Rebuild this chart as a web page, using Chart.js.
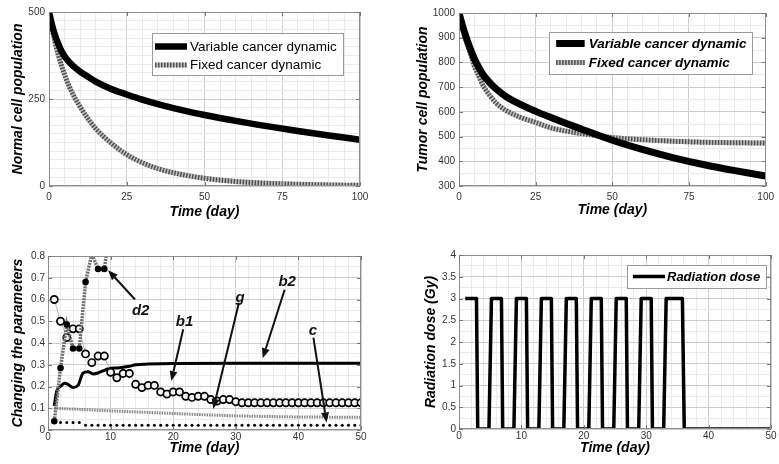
<!DOCTYPE html>
<html><head><meta charset="utf-8">
<script src="https://cdn.jsdelivr.net/npm/chart.js@4.4.1/dist/chart.umd.min.js"></script>
<style>
html,body{margin:0;padding:0;background:#fff;}
#wrap{position:relative;width:779px;height:464px;overflow:hidden;background:#fff;}
.p{position:absolute;}
</style></head><body>
<div id="wrap">
<div class="p" style="left:0;top:0;"><canvas id="c1" width="390" height="232"></canvas></div>
<div class="p" style="left:390px;top:0;"><canvas id="c2" width="389" height="232"></canvas></div>
<div class="p" style="left:0;top:232px;"><canvas id="c3" width="390" height="232"></canvas></div>
<div class="p" style="left:390px;top:232px;"><canvas id="c4" width="389" height="232"></canvas></div>
</div>
<script>
// ---------------- DATA ----------------
// Panel 1: Normal cell population
const days1 = [0,1,2,3,4,5,6,8,10,12,15,20,25,30,35,40,50,60,70,80,90,100];
const normalVariable = [500,462,432,408,388,373,361,343,329,317,300,279,263,248,235,224,204,187,172,158,145,133];
const normalFixed = [500,452,412,377,347,320,297,258,228,200,165,123,90,67,50,38,22,13,8,5,3,2];

// Panel 2: Tumor cell population
const days2 = [0,1,2,3,4,5,6,8,10,12,15,20,25,30,35,40,50,60,70,80,90,100];
const tumorVariable = [1000,955,915,878,845,815,790,748,718,694,665,630,602,577,553,530,485,447,414,386,362,340];
const tumorFixed = [1000,948,900,862,825,785,757,703,667,637,608,578,557,535,522,512,496,487,481,477,475,474];

// Panel 3: Changing the parameters
const paramDays = [1,2,3,4,5,6,7,8,9,10,11,12,13,14,15,16,17,18,19,20,21,22,23,24,25,26,27,28,29,30,31,32,33,34,35,36,37,38,39,40,41,42,43,44,45,46,47,48,49,50];
const b1Values = [0.60,0.50,0.425,0.465,0.465,0.35,0.31,0.34,0.34,0.265,0.24,0.26,0.26,0.21,0.195,0.205,0.205,0.175,0.165,0.175,0.175,0.155,0.15,0.155,0.155,0.14,0.133,0.14,0.14,0.13,0.125,0.125,0.125,0.125,0.125,0.125,0.125,0.125,0.125,0.125,0.125,0.125,0.125,0.125,0.125,0.125,0.125,0.125,0.125,0.125];
const cValues = [0.035,0.035,0.035,0.035,0.035,0.022,0.022,0.022,0.022,0.022,0.022,0.022,0.022,0.022,0.022,0.022,0.022,0.022,0.022,0.022,0.022,0.022,0.022,0.022,0.022,0.022,0.022,0.022,0.022,0.022,0.022,0.022,0.022,0.022,0.022,0.022,0.022,0.022,0.022,0.022,0.022,0.022,0.022,0.022,0.022,0.022,0.022,0.022,0.022,0.022];
const d2Days = [1,2,3,4,5,6,7,8,9,10];
const d2Values = [0.04,0.285,0.485,0.375,0.375,0.68,0.81,0.74,0.74,0.95];
const b2Days = [1,1.4,2,2.6,3.2,4,4.8,5.6,6.4,7.2,8,8.8,9.8,11,12,13,14,16,18,20,30,40,50];
const b2Values = [0.11,0.18,0.2,0.215,0.21,0.195,0.205,0.262,0.268,0.258,0.262,0.272,0.283,0.285,0.288,0.293,0.3,0.303,0.305,0.306,0.307,0.307,0.307];
const gDays = [1,5,10,15,20,25,30,35,40,45,50];
const gValues = [0.1,0.095,0.088,0.082,0.076,0.07,0.065,0.062,0.06,0.059,0.058];
const paramLabels = ['d2','b1','g','b2','c'];

// Panel 4: Radiation dose
const doseDays = [1,2.8,3,4.8,5.2,6.8,7,8.8,9.2,10.8,11,12.8,13.2,14.8,15,16.8,17.2,18.8,19,20.8,21.2,22.8,23,24.8,25.2,26.8,27,28.8,29.2,30.8,31,32.8,33.2,35.8,36.1,50];
const doseValues = [3,3,0,0,3,3,0,0,3,3,0,0,3,3,0,0,3,3,0,0,3,3,0,0,3,3,0,0,3,3,0,0,3,3,0,0];

// ---------------- HELPERS ----------------
Chart.defaults.font.family = '"Liberation Sans", Arial, Helvetica, sans-serif';
Chart.defaults.animation = false;
const pts = (xs, ys) => xs.map((x, i) => ({x: x, y: ys[i]}));
const isMajor = (v, m) => { const r = v / m; return Math.abs(r - Math.round(r)) < 1e-6; };
const fmt = v => String(Math.round(v * 1000) / 1000);
const TITLE_FONT = {size: 14, weight: 'bold', style: 'italic', lineHeight: 1.2};

function axis(o) {
  return {
    type: 'linear', min: o.min, max: o.max,
    afterFit: s => { if (s.isHorizontal()) s.height = o.fit; else s.width = o.fit; },
    ticks: {stepSize: o.minor, autoSkip: false, maxRotation: 0, minRotation: 0, padding: o.tickPad,
      color: '#333', font: {size: 10}, callback: v => isMajor(v, o.major) ? fmt(v) : ''},
    grid: {drawTicks: false, lineWidth: 1,
      color: c => (c.tick && isMajor(c.tick.value, o.major)) ? '#cdcdcd' : '#ebebeb'},
    border: {display: false},
    title: {display: true, text: o.title, color: '#000', font: TITLE_FONT, padding: o.titlePad}
  };
}

const framePlugin = {
  id: 'frame',
  afterDatasetsDraw(chart, args, opts) {
    const {ctx, chartArea: a, scales: {x, y}} = chart;
    ctx.save();
    ctx.strokeStyle = '#8f8f8f'; ctx.lineWidth = 1;
    ctx.strokeRect(Math.round(a.left) + 0.5, Math.round(a.top) + 0.5, Math.round(a.width) - 1, Math.round(a.height) - 1);
    ctx.strokeStyle = '#777';
    ctx.beginPath();
    x.ticks.forEach(t => { if (isMajor(t.value, opts.xMajor)) { const p = Math.round(x.getPixelForValue(t.value)) + 0.5; ctx.moveTo(p, a.bottom); ctx.lineTo(p, a.bottom - 4); ctx.moveTo(p, a.top); ctx.lineTo(p, a.top + 4); } });
    y.ticks.forEach(t => { if (isMajor(t.value, opts.yMajor)) { const p = Math.round(y.getPixelForValue(t.value)) + 0.5; ctx.moveTo(a.left, p); ctx.lineTo(a.left + 4, p); ctx.moveTo(a.right, p); ctx.lineTo(a.right - 4, p); } });
    ctx.stroke();
    ctx.restore();
  }
};

const boxLegendPlugin = {
  id: 'boxLegend',
  afterDraw(chart, args, o) {
    if (!o || !o.width) return;
    const {ctx, chartArea: a} = chart;
    const left = a.right - o.right - o.width, top = a.top + o.top;
    ctx.save();
    ctx.fillStyle = '#fff'; ctx.strokeStyle = '#9a9a9a'; ctx.lineWidth = 1;
    ctx.fillRect(left, top, o.width, o.height);
    ctx.strokeRect(Math.round(left) + 0.5, Math.round(top) + 0.5, o.width, o.height);
    const items = chart.data.datasets.filter(d => d.label);
    items.forEach((d, i) => {
      const yy = top + o.rows[i];
      ctx.lineCap = 'butt';
      if (d.underColor) {
        ctx.setLineDash([]); ctx.strokeStyle = d.underColor; ctx.lineWidth = d.borderWidth;
        ctx.beginPath(); ctx.moveTo(left + o.sample[0], yy); ctx.lineTo(left + o.sample[1], yy); ctx.stroke();
      }
      ctx.setLineDash(d.borderDash || []); ctx.strokeStyle = d.borderColor; ctx.lineWidth = d.borderWidth;
      ctx.beginPath(); ctx.moveTo(left + o.sample[0], yy); ctx.lineTo(left + o.sample[1], yy); ctx.stroke();
      ctx.setLineDash([]);
      ctx.fillStyle = '#000'; ctx.font = o.font; ctx.textBaseline = 'middle'; ctx.textAlign = 'left';
      ctx.fillText(d.label, left + o.textX, yy + 0.5);
    });
    ctx.restore();
  }
};

const arrowPlugin = {
  id: 'arrows',
  afterDraw(chart, args, o) {
    if (!o || !o.items) return;
    const {ctx, scales: {x, y}} = chart;
    ctx.save();
    o.items.forEach((it, i) => {
      const tx = x.getPixelForValue(it.tx), ty = y.getPixelForValue(it.ty);
      const x0 = x.getPixelForValue(it.from[0]), y0 = y.getPixelForValue(it.from[1]);
      const x1 = x.getPixelForValue(it.to[0]), y1 = y.getPixelForValue(it.to[1]);
      const ang = Math.atan2(y1 - y0, x1 - x0), L = 10, Wd = 4;
      const bx = x1 - L * Math.cos(ang), by = y1 - L * Math.sin(ang);
      ctx.strokeStyle = '#111'; ctx.fillStyle = '#111'; ctx.lineWidth = 2;
      ctx.beginPath(); ctx.moveTo(x0, y0); ctx.lineTo(bx, by); ctx.stroke();
      ctx.beginPath(); ctx.moveTo(x1, y1);
      ctx.lineTo(bx + Wd * Math.sin(ang), by - Wd * Math.cos(ang));
      ctx.lineTo(bx - Wd * Math.sin(ang), by + Wd * Math.cos(ang));
      ctx.closePath(); ctx.fill();
      ctx.font = 'italic bold 15px "Liberation Sans", Arial, sans-serif';
      ctx.textAlign = 'center'; ctx.textBaseline = 'middle';
      ctx.fillText(paramLabels[i], tx, ty);
    });
    ctx.restore();
  }
};

Chart.register(framePlugin, boxLegendPlugin, arrowPlugin);

function makeChart(id, cfg) {
  return new Chart(document.getElementById(id), {
    type: 'line',
    data: {datasets: cfg.datasets},
    options: {
      responsive: false, animation: false,
      layout: {padding: {top: cfg.padTop, right: cfg.padRight, left: 0, bottom: 0}, autoPadding: false},
      elements: {point: {radius: 0}, line: {tension: 0}},
      plugins: {legend: {display: false}, tooltip: {enabled: false},
        frame: {xMajor: cfg.x.major, yMajor: cfg.y.major},
        boxLegend: cfg.legend || {}, arrows: cfg.arrows || {}},
      scales: {x: axis(cfg.x), y: axis(cfg.y)}
    }
  });
}

// ---------------- PANEL 1 ----------------
makeChart('c1', {
  padTop: 12, padRight: 30,
  x: {min: 0, max: 100, minor: 5, major: 25, fit: 46, tickPad: 5, title: 'Time (day)', titlePad: {top: 0, bottom: 11}},
  y: {min: 0, max: 500, minor: 25, major: 250, fit: 49, tickPad: 4, title: 'Normal cell population', titlePad: {top: 10, bottom: 0}},
  legend: {right: 17, top: 21, width: 191, height: 42, rows: [13.5, 32], sample: [3, 35], textX: 38,
    font: '13.5px "Liberation Sans", Arial, sans-serif'},
  datasets: [
    {label: 'Variable cancer dynamic', data: pts(days1, normalVariable), borderColor: '#000', borderWidth: 6.5, cubicInterpolationMode: 'monotone'},
    {label: 'Fixed cancer dynamic', data: pts(days1, normalFixed), borderColor: '#505050', underColor: '#c2c2c2', borderDash: [1.5, 1.5], borderWidth: 5, cubicInterpolationMode: 'monotone'},
    {data: pts(days1, normalFixed), borderColor: '#c2c2c2', borderWidth: 5, cubicInterpolationMode: 'monotone'}
  ]
});

// ---------------- PANEL 2 ----------------
makeChart('c2', {
  padTop: 13, padRight: 8,
  x: {min: 0, max: 100, minor: 5, major: 25, fit: 46, tickPad: 5, title: 'Time (day)', titlePad: {top: 0, bottom: 13}},
  y: {min: 300, max: 1000, minor: 50, major: 100, fit: 69, tickPad: 4, title: 'Tumor cell population', titlePad: {top: 25, bottom: 0}},
  legend: {right: 14, top: 19, width: 203, height: 42, rows: [11.5, 30.5], sample: [7.5, 36], textX: 40,
    font: 'italic bold 13.5px "Liberation Sans", Arial, sans-serif'},
  datasets: [
    {label: 'Variable cancer dynamic', data: pts(days2, tumorVariable), borderColor: '#000', borderWidth: 7, cubicInterpolationMode: 'monotone'},
    {label: 'Fixed cancer dynamic', data: pts(days2, tumorFixed), borderColor: '#505050', underColor: '#c2c2c2', borderDash: [1.5, 1.5], borderWidth: 5, cubicInterpolationMode: 'monotone'},
    {data: pts(days2, tumorFixed), borderColor: '#c2c2c2', borderWidth: 5, cubicInterpolationMode: 'monotone'}
  ]
});

// ---------------- PANEL 3 ----------------
makeChart('c3', {
  padTop: 24, padRight: 29,
  x: {min: 0, max: 50, minor: 2, major: 10, fit: 34, tickPad: 1, title: 'Time (day)', titlePad: {top: 0, bottom: 7.5}},
  y: {min: 0, max: 0.8, minor: 0.05, major: 0.1, fit: 48, tickPad: 3, title: 'Changing the parameters', titlePad: {top: 9.5, bottom: 0}},
  arrows: {items: [
    {tx: 14.8, ty: 0.548, from: [13.9, 0.6], to: [9.6, 0.735]},
    {tx: 21.8, ty: 0.497, from: [21.6, 0.463], to: [19.7, 0.225]},
    {tx: 30.7, ty: 0.607, from: [30.5, 0.585], to: [26.4, 0.097]},
    {tx: 38.2, ty: 0.68, from: [37.8, 0.645], to: [34.3, 0.33]},
    {tx: 42.3, ty: 0.458, from: [42.4, 0.425], to: [44.5, 0.035]}
  ]},
  datasets: [
    {data: pts(d2Days, d2Values), borderColor: '#6e6e6e', borderWidth: 3.5, borderDash: [2, 1], clip: 0,
      pointRadius: [3.3,3.3,3.3,3.3,3.3,3.3,0,3.3,3.3,0], pointBackgroundColor: '#000', pointBorderColor: '#000', pointBorderWidth: 0},
    {data: pts(paramDays, b1Values), borderColor: '#b5b5b5', borderWidth: 1,
      pointRadius: 3.6, pointBorderWidth: 1.7, pointBorderColor: '#000', pointBackgroundColor: '#f2f2f2'},
    {data: pts(b2Days, b2Values), borderColor: '#000', borderWidth: 3, cubicInterpolationMode: 'monotone'},
    {data: pts(gDays, gValues), borderColor: '#8a8a8a', borderWidth: 3, borderDash: [1.5, 1]},
    {data: pts(paramDays, cValues), showLine: false, pointRadius: 1.5, pointBackgroundColor: '#000', pointBorderWidth: 0}
  ]
});

// ---------------- PANEL 4 ----------------
makeChart('c4', {
  padTop: 23, padRight: 8,
  x: {min: 0, max: 50, minor: 2, major: 10, fit: 35, tickPad: 1, title: 'Time (day)', titlePad: {top: 0, bottom: 7.5}},
  y: {min: 0, max: 4, minor: 0.25, major: 0.5, fit: 69, tickPad: 3, title: 'Radiation dose (Gy)', titlePad: {top: 33, bottom: 0}},
  legend: {right: 5, top: 10, width: 139, height: 23, rows: [11.5], sample: [6, 38], textX: 40,
    font: 'italic bold 13px "Liberation Sans", Arial, sans-serif'},
  datasets: [
    {label: 'Radiation dose', data: pts(doseDays, doseValues), borderColor: '#000', borderWidth: 3.5, borderJoinStyle: 'round'}
  ]
});
</script>
</body></html>
